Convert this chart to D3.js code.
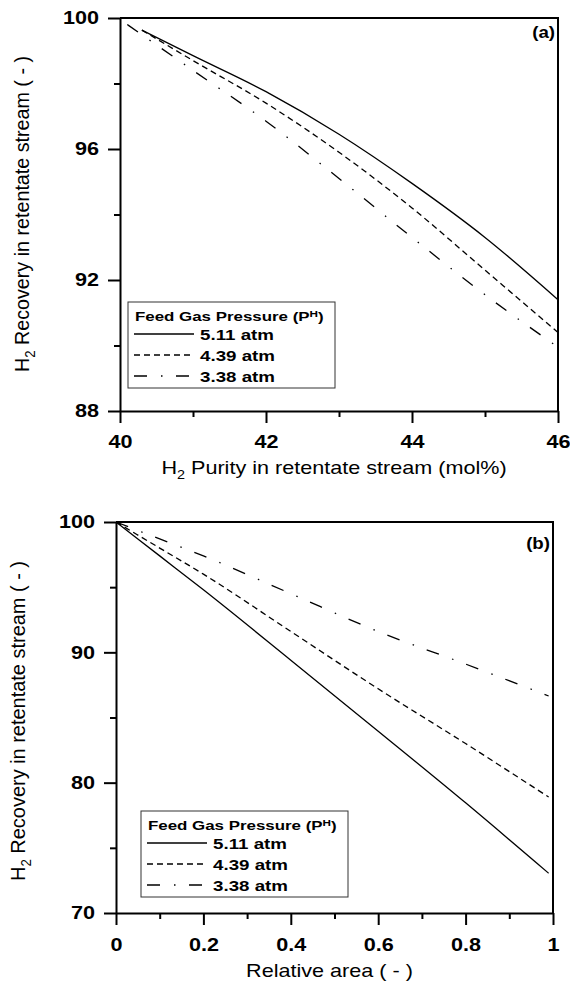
<!DOCTYPE html>
<html>
<head>
<meta charset="utf-8">
<script src="https://cdn.jsdelivr.net/npm/d3@7"></script>
<style>
  body { margin: 0; background: #fff; }
  svg { display: block; font-family: "Liberation Sans", Arial, sans-serif; }
</style>
</head>
<body>
<svg id="chart" width="570" height="981"></svg>
<script>
// Dades llegides del gràfic (a): recuperació vs puresa
const purityA = [40.3, 41, 42, 43, 44, 45, 46];
const purityA338 = [40.1, 41, 42, 43, 44, 45, 46];
const recA511 = [99.63, 98.85, 97.75, 96.45, 94.95, 93.3, 91.4];
const recA439 = [99.63, 98.7, 97.4, 95.9, 94.2, 92.3, 90.4];
const recA338 = [99.8, 98.4, 96.85, 95.1, 93.3, 91.55, 89.95];

// Dades del gràfic (b): recuperació vs àrea relativa
const areaB = [0, 0.1, 0.2, 0.4, 0.6, 0.8, 0.99];
const recB511 = [100, 97.4, 94.8, 89.4, 83.95, 78.45, 73.05];
const recB439 = [100, 98.0, 96.0, 91.6, 87.2, 83.0, 78.9];
const recB338 = [100, 98.7, 97.4, 94.5, 91.6, 89.1, 86.65];

const pressures = ['5.11 atm', '4.39 atm', '3.38 atm'];

const ticksAx = [40, 42, 44, 46], minorAx = [41, 43, 45];
const ticksAy = [88, 92, 96, 100], minorAy = [90, 94, 98];
const ticksBx = [0, 0.2, 0.4, 0.6, 0.8, 1], minorBx = [0.1, 0.3, 0.5, 0.7, 0.9];
const ticksBy = [70, 80, 90, 100], minorBy = [75, 85, 95];

const dashes = [null, '6,4', '13,14,1.5,13.5'];
const K = 1.2; // les lletres de l'original són més amples

const svg = d3.select('#chart');

function zip(xs, ys) { return xs.map((x, i) => ({ x: x, y: ys[i] })); }

function stretchedText(parent, x, y, k) {
    return parent.append('g')
        .attr('transform', `translate(${x},${y}) scale(${k},1)`)
        .append('text');
}

function drawPanel(cfg) {
    const x = d3.scaleLinear().domain(cfg.xDomain).range([cfg.left, cfg.right]);
    const y = d3.scaleLinear().domain(cfg.yDomain).range([cfg.bottom, cfg.top]);
    const g = svg.append('g');

    // eixos menors
    g.append('g')
        .attr('transform', `translate(0,${cfg.bottom})`)
        .call(d3.axisBottom(x).tickValues(cfg.minorX).tickSize(6).tickSizeOuter(0).tickFormat(''))
        .call(a => a.select('.domain').remove());
    g.append('g')
        .attr('transform', `translate(${cfg.left},0)`)
        .call(d3.axisLeft(y).tickValues(cfg.minorY).tickSize(6).tickSizeOuter(0).tickFormat(''))
        .call(a => a.select('.domain').remove());

    // eixos principals
    const xAxis = g.append('g')
        .attr('transform', `translate(0,${cfg.bottom})`)
        .call(d3.axisBottom(x).tickValues(cfg.ticksX).tickSize(12).tickPadding(cfg.xPad)
            .tickSizeOuter(0).tickFormat(cfg.xFormat));
    const yAxis = g.append('g')
        .attr('transform', `translate(${cfg.left},0)`)
        .call(d3.axisLeft(y).tickValues(cfg.ticksY).tickSize(12).tickPadding(9)
            .tickSizeOuter(0).tickFormat(d3.format('d')));

    g.selectAll('.tick line').attr('stroke', '#000').attr('stroke-width', 2);
    g.selectAll('.domain').attr('stroke', '#000').attr('stroke-width', 2);
    g.selectAll('.tick text')
        .attr('fill', '#000')
        .style('font-size', '18px')
        .style('font-weight', 'bold')
        .attr('font-family', null);
    xAxis.selectAll('.tick text').attr('transform', `scale(${K},1)`);
    yAxis.selectAll('.tick text').attr('transform', `scale(${K},1)`).attr('x', -21 / K);

    // marc superior i dret
    g.append('path')
        .attr('d', `M${cfg.left},${cfg.top}H${cfg.right}V${cfg.bottom}`)
        .attr('fill', 'none')
        .attr('stroke', '#000')
        .attr('stroke-width', 2);

    // corbes
    const line = d3.line()
        .x(d => x(d.x))
        .y(d => y(d.y))
        .curve(d3.curveMonotoneX);

    cfg.series.forEach((s, i) => {
        g.append('path')
            .datum(s)
            .attr('fill', 'none')
            .attr('stroke', '#000')
            .attr('stroke-width', 1.3)
            .attr('stroke-dasharray', dashes[i])
            .attr('d', line);
    });

    // etiqueta (a)/(b)
    stretchedText(g, cfg.right - 3, cfg.top + cfg.tagDy, 1.1)
        .attr('text-anchor', 'end')
        .style('font-size', '17px')
        .style('font-weight', 'bold')
        .text(cfg.tag);

    // títol eix x
    const xt = stretchedText(g, (cfg.left + cfg.right) / 2 - 5, cfg.xTitleY, K)
        .attr('text-anchor', 'middle')
        .style('font-size', '18px');
    cfg.xTitle(xt);

    // títol eix y
    const yt = g.append('g')
        .attr('transform', `translate(${cfg.yTitleX},${cfg.yTitleCy}) rotate(-90) scale(1,1.15)`)
        .append('text')
        .attr('text-anchor', 'middle')
        .attr('textLength', cfg.yTitleLen)
        .attr('lengthAdjust', 'spacingAndGlyphs')
        .style('font-size', '18px');
    yt.append('tspan').text('H');
    yt.append('tspan').attr('dy', 5).style('font-size', '12px').text('2');
    yt.append('tspan').attr('dy', -5).text(' Recovery in retentate stream  ( - )');

    // llegenda
    const lg = g.append('g').attr('transform', `translate(${cfg.legX},${cfg.legY})`);
    lg.append('rect')
        .attr('width', 207)
        .attr('height', 86)
        .attr('fill', '#fff')
        .attr('stroke', '#333')
        .attr('stroke-width', 1);
    const title = stretchedText(lg, 7, 19, 1.3)
        .style('font-size', '13px')
        .style('font-weight', 'bold');
    title.append('tspan').text('Feed Gas Pressure (P');
    title.append('tspan').attr('dy', -4).style('font-size', '9px').text('H');
    title.append('tspan').attr('dy', 4).text(')');

    pressures.forEach((p, i) => {
        const yy = 32 + i * 21;
        lg.append('line')
            .attr('x1', 6).attr('x2', 66)
            .attr('y1', yy).attr('y2', yy)
            .attr('stroke', '#000')
            .attr('stroke-width', 1.3)
            .attr('stroke-dasharray', dashes[i]);
        stretchedText(lg, 72, yy + 6, 1.25)
            .style('font-size', '15px')
            .style('font-weight', 'bold')
            .text(p);
    });
}

drawPanel({
    left: 120, right: 558, top: 18, bottom: 411,
    xDomain: [40, 46], yDomain: [88, 100],
    ticksX: ticksAx, minorX: minorAx, ticksY: ticksAy, minorY: minorAy,
    xFormat: d3.format('d'), xPad: 12,
    series: [zip(purityA, recA511), zip(purityA, recA439), zip(purityA338, recA338)],
    tag: '(a)', tagDy: 20,
    xTitleY: 474,
    xTitle: t => {
        t.append('tspan').text('H');
        t.append('tspan').attr('dy', 5).style('font-size', '12px').text('2');
        t.append('tspan').attr('dy', -5).text(' Purity in retentate stream (mol%)');
    },
    yTitleX: 29, yTitleCy: 214, yTitleLen: 316,
    legX: 128, legY: 302
});

drawPanel({
    left: 116, right: 553, top: 522, bottom: 913,
    xDomain: [0, 1], yDomain: [70, 100],
    ticksX: ticksBx, minorX: minorBx, ticksY: ticksBy, minorY: minorBy,
    xFormat: d => d === 0 || d === 1 ? d3.format('d')(d) : d3.format('.1f')(d), xPad: 13,
    series: [zip(areaB, recB511), zip(areaB, recB439), zip(areaB, recB338)],
    tag: '(b)', tagDy: 27,
    xTitleY: 977,
    xTitle: t => t.text('Relative area ( - )'),
    yTitleX: 25, yTitleCy: 721, yTitleLen: 320,
    legX: 141, legY: 811
});
</script>
</body>
</html>
